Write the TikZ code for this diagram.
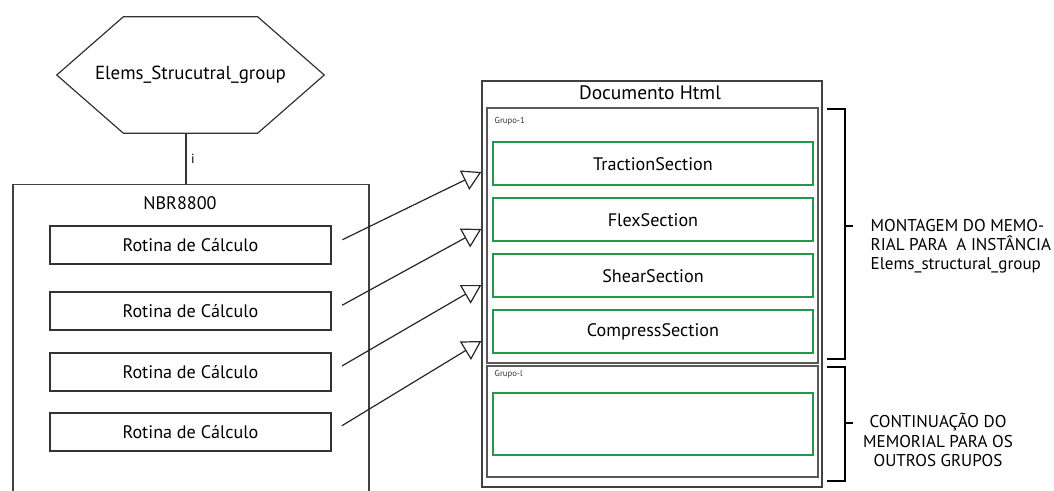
\documentclass[tikz,border=0pt]{standalone}
\usepackage{fontspec}
\setmainfont{PT Sans}
\usetikzlibrary{arrows.meta, positioning}
\definecolor{secgreen}{RGB}{34,152,76}

\begin{document}
\begin{tikzpicture}[
    x=0.75pt, y=-0.75pt,
    font=\fontsize{13.6}{16}\selectfont,
    node distance=8.2pt,
    >={Triangle[open, length=14pt, width=16pt]},
    frame/.style={rectangle, draw=black!75, line width=1pt, inner sep=0pt},
    rotina/.style={rectangle, draw=black!80, line width=0.9pt, minimum width=210.75pt, minimum height=28.5pt, align=center},
    secao/.style={rectangle, draw=secgreen, line width=1.5pt, minimum width=240pt, minimum height=32.25pt, align=center},
    grupo/.style={rectangle, draw=black!65, line width=1.2pt, minimum width=248.25pt},
    tiny/.style={font=\fontsize{6.5}{8}\selectfont, text=black!80},
    arrow/.style={->, line width=0.9pt, draw=black!85, shorten <=9pt},
    brace/.style={line width=2.2pt}
]
\clip (0,0) rectangle (1054,491);

% instancia
\node[minimum width=200.25pt, minimum height=87pt, inner sep=0pt, font=\fontsize{14.2}{17}\selectfont] (elems) at (190.5,75) {Elems\_Strucutral\_group};
\draw[line width=0.9pt, draw=black!80] (elems.west) -- ([xshift=50pt]elems.north west) -- ([xshift=-50pt]elems.north east) -- (elems.east) -- ([xshift=-50pt]elems.south east) -- ([xshift=50pt]elems.south west) -- cycle;

% norma
\node[frame, minimum width=267pt, minimum height=240pt, anchor=north] (nbr) at (191,184) {};
\node (nbrtitle) at (180,203) {NBR8800};
\draw[line width=0.9pt, draw=black!80] ([xshift=-3.4pt]elems.south) -- node[right, font=\fontsize{10}{12}\selectfont] {i} ([xshift=-3.4pt]elems.south |- nbr.north);

\node[rotina] (r1) at (190.5,245) {Rotina de Cálculo};
\node[rotina] (r2) at (190.5,311) {Rotina de Cálculo};
\node[rotina] (r3) at (190.5,372) {Rotina de Cálculo};
\node[rotina] (r4) at (190.5,432) {Rotina de Cálculo};

% documento
\node[frame, minimum width=255pt, minimum height=304.5pt] (doc) at (652,284) {};
\node[font=\fontsize{14.6}{17}\selectfont] (doctitle) at (650,93) {Documento Html};
\node[grupo, minimum height=191.25pt] (g1) at (652.5,235.5) {};
\node[tiny, anchor=west] (g1lab) at (490,121) {Grupo-1};
\node[grupo, minimum height=83.25pt] (g2) at (652.5,421.5) {};
\node[tiny, anchor=west] (g2lab) at (490,374) {Grupo-l};

\node[secao] (trac) at (653,164) {TractionSection};
\node[secao, below=of trac] (flex) {FlexSection};
\node[secao, below=of flex] (shear) {ShearSection};
\node[secao, below=of shear] (comp) {CompressSection};
\node[secao, minimum height=46.5pt] (vazio) at (653,424) {};

% ligacoes
\coordinate (t1) at ([yshift=84pt]doc.west);
\coordinate (t2) at ([yshift=41.25pt]doc.west);
\coordinate (t3) at ([yshift=-0.75pt]doc.west);
\coordinate (t4) at ([yshift=-42.75pt]doc.west);
\draw[arrow] (r1.east) -- (t1);
\draw[arrow] (r2.east) -- (t2);
\draw[arrow] (r3.east) -- (t3);
\draw[arrow] (r4.east) -- (t4);

% chaves
\draw[brace] (827,109) -- (845,109) -- (845,359) -- (827,359);
\draw[brace] (845,226) -- (853,226);
\draw[brace] (827,367) -- (845,367) -- (845,481) -- (827,481);
\draw[brace] (845,423) -- (853,423);

\node[anchor=west, align=left, font=\fontsize{12.8}{14.4}\selectfont] (montagem) at (866,246) {MONTAGEM DO MEMO-\\RIAL PARA\ \ A INSTÂNCIA\\Elems\_structural\_group};
\node[align=center, font=\fontsize{12.8}{14.4}\selectfont] (continua) at (938,440) {CONTINUAÇÃO DO\\MEMORIAL PARA OS\\OUTROS GRUPOS};
\end{tikzpicture}
\end{document}
